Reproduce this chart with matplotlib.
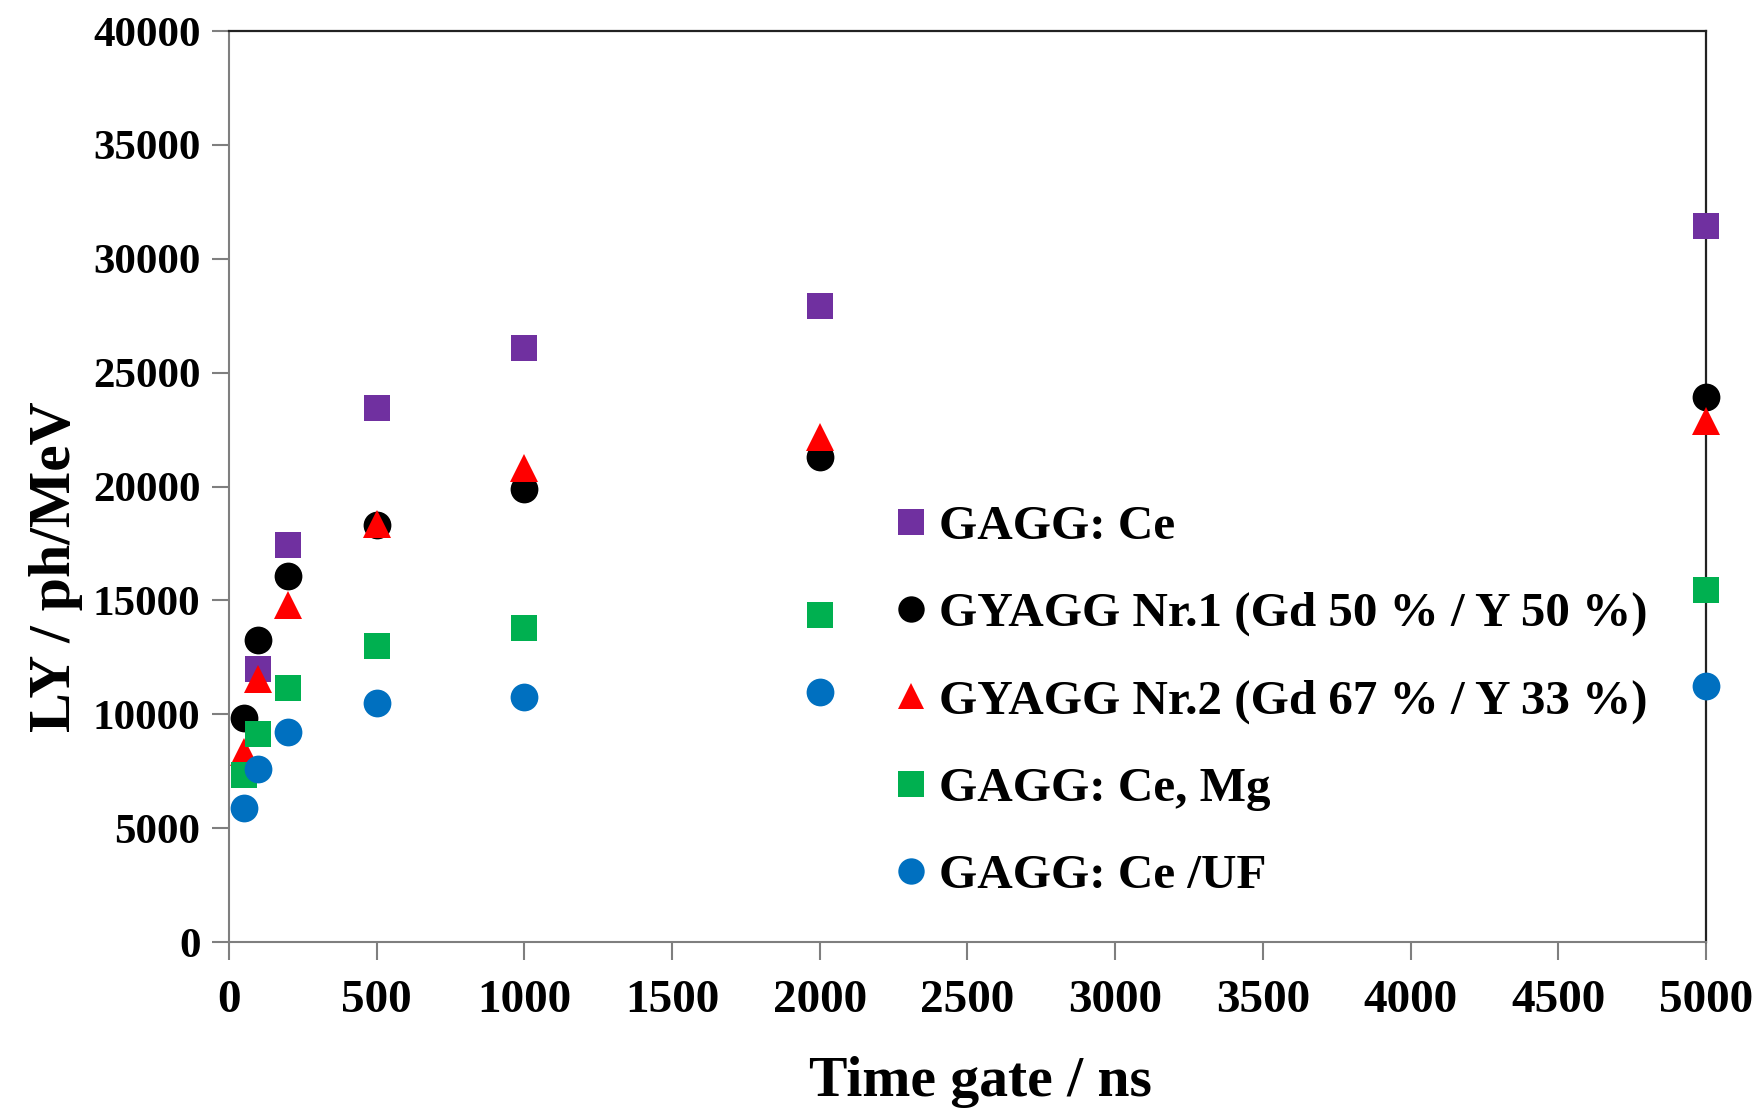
import matplotlib
matplotlib.use("Agg")
import matplotlib.pyplot as plt

plt.rcParams['font.family'] = ['Liberation Serif', 'DejaVu Serif']
plt.rcParams['font.weight'] = 'bold'

time_gate = [50, 100, 200, 500, 1000, 2000, 5000]
gagg_ce_x = [100, 200, 500, 1000, 2000, 5000]
gagg_ce = [12000, 17450, 23450, 26080, 27950, 31450]
gyagg1 = [9830, 13260, 16070, 18300, 19880, 21320, 23950]
gyagg2 = [8350, 11550, 14800, 18350, 20800, 22200, 22900]
gagg_ce_mg = [7330, 9150, 11150, 13000, 13800, 14380, 15450]
gagg_ce_uf = [5880, 7620, 9220, 10480, 10780, 10980, 11250]

labels = ["GAGG: Ce", "GYAGG Nr.1 (Gd 50 % / Y 50 %)", "GYAGG Nr.2 (Gd 67 % / Y 33 %)",
          "GAGG: Ce, Mg", "GAGG: Ce /UF"]
x_ticks = [0, 500, 1000, 1500, 2000, 2500, 3000, 3500, 4000, 4500, 5000]
y_ticks = [0, 5000, 10000, 15000, 20000, 25000, 30000, 35000, 40000]

fig = plt.figure(figsize=(17.61, 11.11), dpi=100)
ax = fig.add_axes([0.130, 0.152, 0.8388, 0.820])

series = [
    (gagg_ce_x, gagg_ce, 's', '#7030A0', 19),
    (time_gate, gyagg1, 'o', '#000000', 20),
    (time_gate, gyagg2, '^', '#FF0000', 20),
    (time_gate, gagg_ce_mg, 's', '#00B050', 19),
    (time_gate, gagg_ce_uf, 'o', '#0070C0', 20),
]
handles = []
for (xs, ys, m, c, ms), lab in zip(series, labels):
    h, = ax.plot(xs, ys, linestyle='none', marker=m, color=c, markersize=ms,
                 markeredgewidth=0, clip_on=False, zorder=3, label=lab)
    handles.append(h)

ax.set_xlim(0, 5000)
ax.set_ylim(0, 40000)
ax.set_xticks(x_ticks)
ax.set_yticks(y_ticks)
ax.tick_params(axis='both', direction='out', colors='#7f7f7f', labelcolor='black', width=1.5)
ax.tick_params(axis='x', length=13, pad=14, labelsize=34)
ax.tick_params(axis='y', length=12, pad=8.5, labelsize=31)
for s in ['left', 'bottom']:
    ax.spines[s].set_color('#7f7f7f')
    ax.spines[s].set_linewidth(1.5)
for s in ['top', 'right']:
    ax.spines[s].set_color('#222222')
    ax.spines[s].set_linewidth(1.6)

ax.set_xlabel("Time gate / ns", fontsize=41.5, fontweight='bold', labelpad=24.5)
ax.xaxis.label.set_x(0.5085)
ax.set_ylabel("LY / ph/MeV", fontsize=43, fontweight='bold', labelpad=7)
ax.yaxis.label.set_y(0.412)

leg = ax.legend(handles=handles, loc='upper left', bbox_to_anchor=(0.4385, 0.502),
                frameon=False, fontsize=35.4, markerscale=0.95, handlelength=0.58,
                handletextpad=0.28, labelspacing=0.87, borderaxespad=0)

fig.savefig("out.png", dpi=100)
